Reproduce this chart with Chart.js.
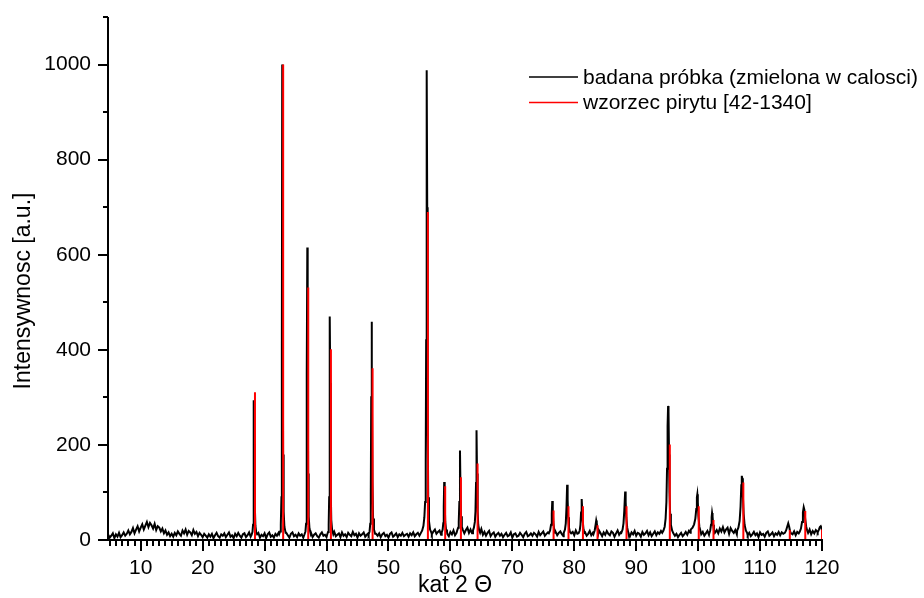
<!DOCTYPE html>
<html>
<head>
<meta charset="utf-8">
<title>XRD</title>
<script src="https://cdn.jsdelivr.net/npm/chart.js@4.4.1/dist/chart.umd.min.js"></script>
<style>
  html, body { margin: 0; padding: 0; background: #ffffff; }
  canvas { display: block; }
</style>
</head>
<body>
<canvas id="xrd" width="924" height="598"></canvas>
<script>
// Measured scan: counts on a 0.25 deg grid starting at 4.75 deg
const scanStart = 4.75;
const scanStep = 0.25;
const scanCounts = [
  // 4.75 - 7.00
  11,5,9,14,4,12,7,15,6,10,
  // 7.25 - 11.00
  16,9,13,20,12,17,25,14,22,29,18,26,33,22,30,38,
  // 11.25 - 15.00
  27,36,31,24,34,21,29,26,18,24,14,20,11,16,8,13,
  // 15.25 - 21.00
  7,15,10,18,13,9,20,14,22,11, 19,16,10,21,13,17,8,15,11,6, 13,9,5,12,
  // 21.25 - 28.00
  7,13,4,10,15,8,5,12,9,14, 6,11,16,7,10,4,13,8,15,9, 5,12,14,6,10,16,7,11,
  // 28.25 - 33.00
  13,6,9,15,5,11,8,14,4,12, 16,7,10,5,13,9,15,6,11,14,
  // 33.25 - 38.00
  7,15,10,5,13,16,8,11,6,14, 9,12,5,16,10,7,13,15,6,11,
  // 38.25 - 43.00
  14,8,5,12,16,9,11,6,15,10, 7,13,17,8,11,14,6,16,9,12,
  // 43.25 - 48.00
  6,15,11,8,17,10,13,5,14,9, 12,16,7,11,14,6,10,15,8,13,
  // 48.25 - 53.00
  9,14,6,12,15,8,11,5,13,16, 7,10,14,6,12,9,15,8,11,13,
  // 53.25 - 58.00
  7,14,10,16,8,12,15,9,17,11, 14,19,10,16,21,12,18,22,13,17,
  // 58.25 - 63.00
  20,11,16,9,19,13,8,17,12,20, 10,15,22,13,18,24,14,21,26,15,
  // 63.25 - 68.00
  22,14,25,18,12,20,16,23,11,17, 9,15,19,8,13,16,7,12,15,9,
  // 68.25 - 73.00
  13,6,11,15,8,10,16,5,12,14, 7,9,15,11,6,13,17,8,10,14,
  // 73.25 - 78.00
  9,15,12,7,17,10,14,18,9,13, 16,11,19,8,14,17,10,15,18,12,
  // 78.25 - 83.00
  8,16,12,19,9,14,17,10,20,13, 7,15,18,11,16,9,13,19,10,15,
  // 83.25 - 88.00
  17,9,12,20,14,8,16,11,19,13, 10,18,15,7,14,20,11,16,9,17,
  // 88.25 - 93.00
  11,18,14,8,16,12,19,9,15,13, 7,17,11,14,19,10,16,8,13,18,
  // 93.25 - 98.00
  10,16,13,19,20,28,40,80,80,50, 30,20,9,13,6,11,15,8,12,17,
  // 98.25 - 103.00
  11,19,15,22,25,30,40,80,50,12, 17,9,14,19,11,30,50,30,16,21,
  // 103.25 - 108.00
  14,24,18,27,16,22,26,13,25,19, 15,21,12,30,60,100,80,40,22,10,
  // 108.25 - 113.00
  15,8,12,17,10,14,6,16,11,13, 7,15,18,9,12,16,8,14,11,17,
  // 113.25 - 118.00
  10,16,13,9,20,28,30,18,12,18, 10,17,14,24,45,68,60,30,15,22,
  // 118.25 - 120.00
  12,19,14,21,17,22,28,20
];

// Reflections of the scan, sampled finer: [angle, counts]
const peakScans = [
  [[27.9,11],[28.05,17],[28.14,32],[28.2,90],[28.25,240],[28.29,294],[28.35,200],[28.43,70],[28.52,30],[28.65,16],[28.8,12]],
  [[32.35,12],[32.5,18],[32.62,32],[32.72,90],[32.79,400],[32.85,1000],[32.92,600],[32.99,180],[33.08,60],[33.2,28],[33.4,15]],
  [[36.45,12],[36.6,18],[36.7,34],[36.78,100],[36.84,350],[36.9,615],[36.96,420],[37.03,140],[37.12,50],[37.25,24],[37.45,13]],
  [[40.1,11],[40.25,17],[40.35,32],[40.43,90],[40.49,270],[40.55,470],[40.61,330],[40.68,110],[40.77,42],[40.9,22],[41.1,12]],
  [[46.8,12],[46.95,18],[47.06,34],[47.15,100],[47.22,300],[47.28,459],[47.34,340],[47.42,120],[47.52,45],[47.66,22],[47.85,13]],
  [[55.2,14],[55.45,20],[55.65,30],[55.8,48],[55.92,80],[56.02,170],[56.09,420],[56.15,800],[56.2,988],[56.26,700],[56.33,280],[56.42,90],[56.54,40],[56.72,22],[56.95,15]],
  [[58.6,16],[58.75,22],[58.85,35],[58.93,70],[59.0,122],[59.08,80],[59.17,38],[59.3,22],[59.45,18]],
  [[61.1,20],[61.25,26],[61.35,38],[61.45,80],[61.55,188],[61.63,110],[61.72,50],[61.85,28],[62.0,22]],
  [[63.65,20],[63.8,26],[63.95,38],[64.05,60],[64.14,120],[64.22,231],[64.3,140],[64.4,60],[64.5,32],[64.65,20],[64.8,15]],
  [[75.9,14],[76.1,20],[76.25,32],[76.37,55],[76.45,82],[76.53,62],[76.62,38],[76.75,22],[76.9,15]],
  [[78.3,15],[78.5,22],[78.63,35],[78.75,70],[78.85,116],[78.93,85],[79.02,48],[79.15,26],[79.3,17]],
  [[80.7,14],[80.88,20],[81.0,32],[81.1,58],[81.2,86],[81.28,65],[81.37,40],[81.5,22],[81.65,15]],
  [[83.1,12],[83.3,20],[83.45,32],[83.55,41],[83.63,36],[83.75,24],[83.9,14]],
  [[87.6,15],[87.8,22],[87.95,35],[88.08,62],[88.22,102],[88.3,80],[88.4,48],[88.55,26],[88.7,17]],
  [[94.2,15],[94.4,20],[94.6,28],[94.75,45],[94.88,80],[94.98,150],[95.07,240],[95.15,282],[95.22,270],[95.3,180],[95.38,100],[95.48,55],[95.6,32],[95.8,20],[96.0,14]],
  [[98.8,22],[99.1,26],[99.35,33],[99.55,45],[99.7,65],[99.8,90],[99.87,96],[99.95,80],[100.05,50],[100.2,28],[100.4,18]],
  [[101.8,14],[101.95,20],[102.08,32],[102.18,48],[102.25,57],[102.33,50],[102.43,32],[102.55,20],[102.7,15]],
  [[106.3,20],[106.5,26],[106.7,40],[106.85,70],[106.97,115],[107.05,135],[107.12,130],[107.22,95],[107.35,55],[107.5,32],[107.7,20],[107.9,15]],
  [[114.0,15],[114.2,20],[114.38,28],[114.55,35],[114.7,28],[114.85,18],[115.0,14]],
  [[116.4,17],[116.6,24],[116.78,38],[116.92,58],[117.05,69],[117.15,64],[117.28,45],[117.45,28],[117.6,20]],
  [[119.3,16],[119.5,22],[119.65,27],[119.8,29],[119.9,26],[120.0,20]]
];

// Pyrite reference pattern [42-1340]: line positions and relative intensities
const stickAngles = [28.45, 33.0, 37.05, 40.71, 47.44, 56.37, 59.16, 61.7, 64.39, 76.66, 79.07, 81.4, 83.76, 88.44, 95.43, 100.1, 102.48, 107.3, 114.8, 117.3, 120.0];
const stickIntensities = [311, 1000, 531, 401, 361, 690, 113, 132, 161, 62, 71, 71, 31, 71, 201, 71, 42, 121, 21, 61, 22];

const seriesLabels = ['badana próbka (zmielona w calosci)', 'wzorzec pirytu [42-1340]'];
const xTickValues = [10, 20, 30, 40, 50, 60, 70, 80, 90, 100, 110, 120];
const yTickValues = [0, 200, 400, 600, 800, 1000];
const xTitle = 'kat 2 \u0398';
const yTitle = 'Intensywnosc [a.u.]';

const FONT = '"Liberation Sans", Arial, Helvetica, sans-serif';

// Combine the coarse scan with the finely sampled reflections
const peakWindows = peakScans.map(p => [p[0][0], p[p.length - 1][0]]);
const measured = [];
scanCounts.forEach((c, i) => {
  const x = Math.round((scanStart + i * scanStep) * 100) / 100;
  if (!peakWindows.some(([a, b]) => x >= a && x <= b)) measured.push({ x, y: c });
});
peakScans.forEach(p => p.forEach(([x, y]) => measured.push({ x, y })));
measured.sort((a, b) => a.x - b.x);

// Reference lines as separate vertical segments
const sticks = [];
stickAngles.forEach((x, i) => {
  sticks.push({ x, y: 0 }, { x, y: stickIntensities[i] }, { x, y: null });
});

// Axis lines, major/minor ticks, titles and the legend
const frame = {
  id: 'frame',
  afterDraw(chart) {
    const { ctx, scales: { x, y } } = chart;
    const ax = x.left;
    const ay = y.getPixelForValue(0);
    ctx.save();
    ctx.strokeStyle = '#000';
    ctx.lineWidth = 2;
    ctx.lineCap = 'butt';
    ctx.beginPath();
    ctx.moveTo(ax, y.getPixelForValue(1100));
    ctx.lineTo(ax, ay + 1);
    ctx.moveTo(ax - 10, ay);
    ctx.lineTo(x.right + 1, ay);
    for (let v = 5; v <= 120; v += 1) {
      const px = Math.round(x.getPixelForValue(v));
      const len = v % 10 === 0 ? 11 : 6;
      ctx.moveTo(px, ay);
      ctx.lineTo(px, ay + len);
    }
    for (let v = 100; v <= 1100; v += 100) {
      const py = Math.round(y.getPixelForValue(v));
      const len = v % 200 === 0 ? 10 : 5;
      ctx.moveTo(ax - len, py);
      ctx.lineTo(ax, py);
    }
    ctx.stroke();

    ctx.fillStyle = '#000';
    ctx.font = '23px ' + FONT;
    ctx.textAlign = 'center';
    ctx.textBaseline = 'alphabetic';
    ctx.fillText(xTitle, 455, 592);

    ctx.save();
    ctx.translate(30, 291);
    ctx.rotate(-Math.PI / 2);
    ctx.fillText(yTitle, 0, 0);
    ctx.restore();

    ctx.font = '21px ' + FONT;
    ctx.textAlign = 'left';
    ctx.textBaseline = 'middle';
    const rows = [77, 102.5];
    chart.data.datasets.forEach((ds, i) => {
      ctx.strokeStyle = ds.borderColor;
      ctx.lineWidth = i === 0 ? 1.6 : 1.3;
      ctx.beginPath();
      ctx.moveTo(529, rows[i]);
      ctx.lineTo(578, rows[i]);
      ctx.stroke();
      ctx.fillText(ds.label, 583, rows[i] + 1);
    });
    ctx.restore();
  }
};

new Chart(document.getElementById('xrd'), {
  type: 'line',
  data: {
    datasets: [
      { label: seriesLabels[0], data: measured, borderColor: '#000000', borderWidth: 2,
        pointRadius: 0, tension: 0, order: 1 },
      { label: seriesLabels[1], data: sticks, borderColor: '#ff0000', borderWidth: 2,
        pointRadius: 0, tension: 0, spanGaps: false, order: 0 }
    ]
  },
  options: {
    responsive: false,
    animation: false,
    devicePixelRatio: 1,
    layout: { padding: { top: 17, right: 102, left: 0, bottom: 0 } },
    plugins: { legend: { display: false }, tooltip: { enabled: false } },
    scales: {
      x: {
        type: 'linear', min: 4.72, max: 120,
        grid: { display: false, drawTicks: false },
        border: { display: false },
        afterBuildTicks: s => { s.ticks = xTickValues.map(v => ({ value: v })); },
        ticks: { autoSkip: false, maxRotation: 0, padding: 16, color: '#000',
                 font: { family: FONT, size: 21 }, callback: v => String(v) },
        afterFit: s => { s.height = 58; s.paddingLeft = 0; s.paddingRight = 0; }
      },
      y: {
        type: 'linear', min: 0, max: 1100,
        grid: { display: false, drawTicks: false },
        border: { display: false },
        afterBuildTicks: s => { s.ticks = yTickValues.map(v => ({ value: v })); },
        ticks: { padding: 17, color: '#000', font: { family: FONT, size: 21 },
                 callback: v => String(v) },
        afterFit: s => { s.width = 108; s.paddingTop = 0; s.paddingBottom = 0; }
      }
    }
  },
  plugins: [frame]
});
</script>
</body>
</html>
